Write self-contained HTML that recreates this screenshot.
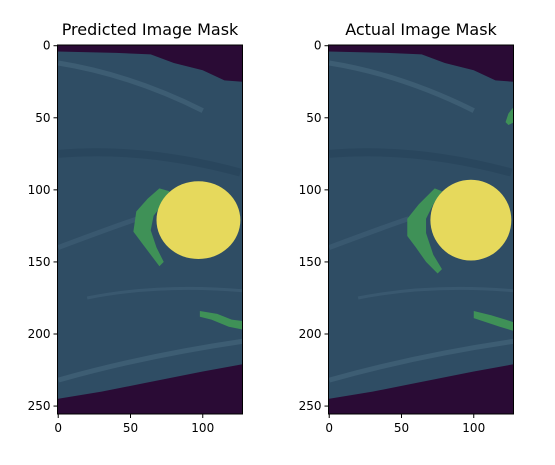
<!DOCTYPE html>
<html><head><meta charset="utf-8">
<style>
body{margin:0;background:#fff;width:555px;height:460px;overflow:hidden}
svg text{font-family:"DejaVu Sans","Liberation Sans",sans-serif;fill:#000}
</style></head>
<body>
<svg id="fig" width="555" height="460" xmlns="http://www.w3.org/2000/svg"></svg>
<script>
const xTicks=[0,50,100];
const yTicks=[0,50,100,150,200,250];
const titles=["Predicted Image Mask","Actual Image Mask"];
const axesLeft=[57.5,328.5];
const topEdgeX=[0,40,64,80,100,115,128];
const topEdgeY=[4,5,6,12,17,24,25];
const botEdgeX=[128,100,60,30,0];
const botEdgeY=[221,226,234,240,245];
const yellowCx=[97,98];const yellowCy=[121,121];const yellowRx=[29,28];const yellowRy=[27,28];
const greenA=[[[70,99],[77,101],[72,110],[66,118],[64,128],[68,140],[73,150],[70,153],[64,145],[58,137],[52,129],[54,115],[62,106]],
              [[73,99],[78,101],[72,110],[67,120],[67,130],[72,145],[78,155],[75,158],[67,150],[60,140],[54,132],[54,120],[62,110]]];
const greenB=[[[98,184],[110,186],[120,190],[128,191],[128,197],[118,195],[106,190],[98,188]],
              [[100,184],[112,187],[122,190],[128,192],[128,198],[118,195],[106,191],[100,189]]];
const greenC=[[],[[128,42],[124,47],[122,53],[124,55],[128,53]]];
const NS="http://www.w3.org/2000/svg";
const fig=document.getElementById('fig');
const W=185,H=369,T=45;
function mk(tag,attrs,parent){const e=document.createElementNS(NS,tag);for(const k in attrs)e.setAttribute(k,attrs[k]);(parent||fig).appendChild(e);return e;}
const defs=mk('defs',{});
for(let p=0;p<2;p++){
  const L=axesLeft[p];
  const cp=mk('clipPath',{id:'clip'+p},defs);
  mk('rect',{x:L,y:T,width:W,height:H},cp);
  const sx=v=>L+(v+0.5)*W/128, sy=v=>T+(v+0.5)*H/256;
  const g=mk('g',{});
  
  
  const img=mk('g',{"clip-path":`url(#clip${p})`},g);
  const bg=mk('rect',{x:L,y:T,width:W,height:H,fill:'#2a0b35'},img);
  
  let pts=[];
  for(let i=0;i<topEdgeX.length;i++)pts.push(sx(topEdgeX[i])+','+sy(topEdgeY[i]));
  for(let i=0;i<botEdgeX.length;i++)pts.push(sx(botEdgeX[i])+','+sy(botEdgeY[i]));
  pts[topEdgeX.length-1]=(L+W)+','+sy(topEdgeY[topEdgeX.length-1]);
  pts[topEdgeX.length]=(L+W)+','+sy(botEdgeY[0]);
  pts[0]=L+','+sy(topEdgeY[0]);pts[pts.length-1]=L+','+sy(botEdgeY[botEdgeY.length-1]);
  const body=mk('polygon',{points:pts.join(' '),fill:'#2f4d64'},img);
  
  mk('path',{d:`M${sx(0)},${sy(12)} Q${sx(50)},${sy(20)} ${sx(100)},${sy(45)}`,stroke:'#587a90',"stroke-width":5,fill:'none',opacity:0.35},img);
  mk('path',{d:`M${sx(0)},${sy(140)} Q${sx(40)},${sy(125)} ${sx(55)},${sy(120)}`,stroke:'#4d6e84',"stroke-width":5,fill:'none',opacity:0.35},img);
  mk('path',{d:`M${sx(0)},${sy(232)} Q${sx(60)},${sy(215)} ${sx(128)},${sy(205)}`,stroke:'#587a90',"stroke-width":5,fill:'none',opacity:0.35},img);
  mk('path',{d:`M${sx(0)},${sy(75)} Q${sx(60)},${sy(70)} ${sx(126)},${sy(88)}`,stroke:'#243f55',"stroke-width":8,fill:'none',opacity:0.5},img);
  mk('path',{d:`M${sx(20)},${sy(175)} Q${sx(70)},${sy(165)} ${sx(128)},${sy(170)}`,stroke:'#4d6e84',"stroke-width":3,fill:'none',opacity:0.35},img);
  for(const poly of [greenA[p],greenB[p],greenC[p]]){
    if(!poly.length)continue;
    const gp=mk('polygon',{points:poly.map(q=>sx(q[0])+','+sy(q[1])).join(' '),fill:'#3f9157'},img);
    
  }
  const y=mk('ellipse',{cx:sx(yellowCx[p]),cy:sy(yellowCy[p]),rx:yellowRx[p]*W/128,ry:yellowRy[p]*H/256,fill:'#e6d95c'},img);
  
  const fr=mk('rect',{x:L,y:T,width:W,height:H,fill:'none',stroke:'#000',"stroke-width":1},g);
  
  for(const v of xTicks){
    const x=sx(v);
    mk('line',{x1:x,x2:x,y1:T+H,y2:T+H+4,stroke:'#000'},g);
    const t=mk('text',{x:x,y:T+H+18,"text-anchor":"middle","font-size":12},g);t.textContent=v;
    
  }
  for(const v of yTicks){
    const yy=sy(v);
    mk('line',{x1:L-4,x2:L,y1:yy,y2:yy,stroke:'#000'},g);
    const t=mk('text',{x:L-7,y:yy+4,"text-anchor":"end","font-size":12},g);t.textContent=v;
    
  }
  const tt=mk('text',{x:L+W/2,y:T-10,"text-anchor":"middle","font-size":16},g);tt.textContent=titles[p];
  
}
</script>
</body></html>
